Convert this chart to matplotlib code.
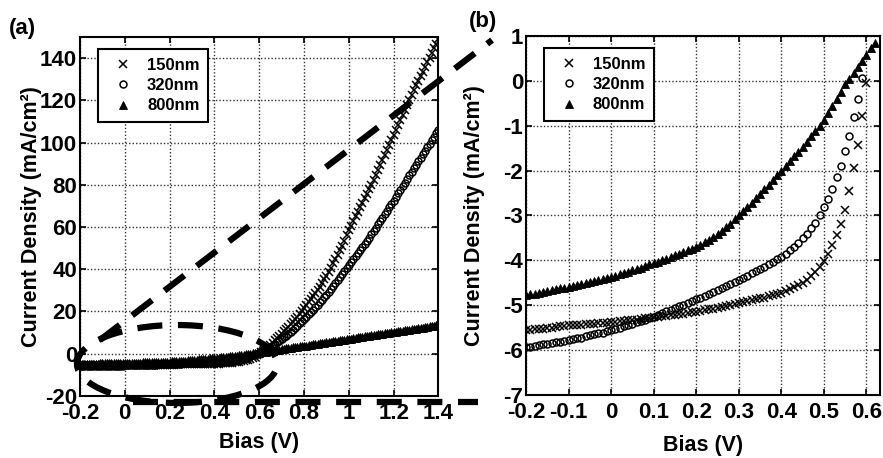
import numpy as np
import matplotlib
matplotlib.use("Agg")
import matplotlib.pyplot as plt
from matplotlib.patches import Ellipse

plt.rcParams['font.family'] = ['Liberation Sans', 'DejaVu Sans']
plt.rcParams['font.weight'] = 'bold'

# voltage sweep, 10 mV steps
bias = np.round(np.arange(-0.20, 1.405, 0.01), 2)

# current density (mA/cm^2)
j_150nm = [
    -5.56, -5.55, -5.54, -5.53, -5.52, -5.51, -5.50, -5.48, -5.47, -5.46,
    -5.45, -5.44, -5.44, -5.43, -5.42, -5.42, -5.41, -5.40, -5.40, -5.39,
    -5.38, -5.37, -5.36, -5.35, -5.34, -5.33, -5.32, -5.30, -5.29, -5.28,
    -5.27, -5.26, -5.25, -5.23, -5.22, -5.21, -5.20, -5.19, -5.17, -5.16,
    -5.15, -5.13, -5.11, -5.09, -5.08, -5.06, -5.04, -5.02, -5.00, -4.97,
    -4.95, -4.93, -4.91, -4.89, -4.87, -4.85, -4.83, -4.80, -4.78, -4.75,
    -4.72, -4.68, -4.64, -4.60, -4.55, -4.50, -4.43, -4.35, -4.25, -4.14,
    -4.02, -3.85, -3.65, -3.43, -3.18, -2.87, -2.45, -1.95, -1.42, -0.78,
    -0.05, 0.75, 1.6, 2.5, 3.4, 4.3, 5.3, 6.3, 7.3, 8.4,
    9.5, 10.6, 11.7, 12.8, 14.0, 15.2, 16.4, 17.6, 18.9, 20.2,
    21.5, 22.9, 24.3, 25.7, 27.2, 28.7, 30.2, 31.8, 33.5, 35.2,
    37.0, 38.9, 40.8, 42.8, 44.8, 46.9, 49.0, 51.2, 53.5, 56.0,
    58.5, 60.6, 62.8, 65.0, 67.1, 69.3, 71.4, 73.6, 75.7, 77.9,
    80.0, 82.4, 84.7, 87.1, 89.4, 91.8, 94.1, 96.5, 98.8, 101.2,
    103.5, 105.9, 108.2, 110.6, 112.9, 115.3, 117.6, 120.0, 122.3, 124.7,
    127.0, 129.2, 131.4, 133.6, 135.8, 138.0, 140.2, 142.4, 144.6, 146.8,
    149.0,
]
j_320nm = [
    -5.93, -5.92, -5.90, -5.89, -5.87, -5.86, -5.84, -5.83, -5.81, -5.80,
    -5.78, -5.76, -5.74, -5.72, -5.69, -5.67, -5.65, -5.63, -5.61, -5.58,
    -5.56, -5.53, -5.50, -5.47, -5.44, -5.41, -5.38, -5.35, -5.32, -5.29,
    -5.26, -5.22, -5.18, -5.14, -5.10, -5.06, -5.02, -4.99, -4.95, -4.91,
    -4.87, -4.83, -4.79, -4.74, -4.70, -4.66, -4.61, -4.57, -4.53, -4.48,
    -4.44, -4.39, -4.34, -4.29, -4.24, -4.19, -4.14, -4.09, -4.04, -3.98,
    -3.93, -3.86, -3.78, -3.70, -3.61, -3.51, -3.41, -3.29, -3.16, -3.00,
    -2.82, -2.63, -2.41, -2.15, -1.89, -1.56, -1.22, -0.81, -0.41, 0.06,
    0.55, 1.10, 1.65, 2.20, 2.80, 3.40, 4.05, 4.70, 5.40, 6.10,
    6.85, 7.70, 8.58, 9.49, 10.43, 11.39, 12.37, 13.37, 14.39, 15.43,
    16.5, 17.6, 18.7, 19.8, 20.9, 22.1, 23.2, 24.4, 25.6, 26.8,
    28.0, 29.3, 30.6, 32.0, 33.4, 34.8, 36.2, 37.6, 39.0, 40.5,
    42.0, 43.4, 44.9, 46.3, 47.8, 49.2, 50.7, 52.1, 53.6, 55.0,
    56.5, 58.1, 59.7, 61.3, 62.9, 64.5, 66.1, 67.7, 69.3, 70.9,
    72.5, 74.2, 75.9, 77.6, 79.3, 81.0, 82.7, 84.4, 86.1, 87.8,
    89.5, 91.1, 92.8, 94.4, 96.1, 97.7, 99.4, 101.0, 102.7, 104.3,
    106.0,
]
j_800nm = [
    -4.78, -4.76, -4.74, -4.72, -4.70, -4.68, -4.66, -4.64, -4.62, -4.61,
    -4.59, -4.57, -4.55, -4.53, -4.51, -4.48, -4.46, -4.44, -4.42, -4.39,
    -4.37, -4.34, -4.31, -4.28, -4.25, -4.22, -4.19, -4.16, -4.13, -4.09,
    -4.06, -4.03, -3.99, -3.96, -3.92, -3.89, -3.85, -3.81, -3.78, -3.74,
    -3.70, -3.65, -3.60, -3.54, -3.48, -3.42, -3.35, -3.26, -3.18, -3.09,
    -3.00, -2.91, -2.81, -2.72, -2.62, -2.52, -2.42, -2.32, -2.21, -2.11,
    -2.00, -1.89, -1.79, -1.68, -1.58, -1.47, -1.36, -1.24, -1.12, -1.00,
    -0.88, -0.72, -0.56, -0.40, -0.24, -0.08, 0.05, 0.18, 0.31, 0.45,
    0.58, 0.72, 0.85, 1.0, 1.2, 1.3, 1.5, 1.7, 1.8, 2.0,
    2.2, 2.3, 2.5, 2.6, 2.8, 3.0, 3.1, 3.3, 3.5, 3.6,
    3.8, 3.9, 4.1, 4.3, 4.4, 4.6, 4.8, 4.9, 5.1, 5.3,
    5.4, 5.6, 5.7, 5.9, 6.1, 6.2, 6.4, 6.6, 6.7, 6.9,
    7.0, 7.2, 7.4, 7.5, 7.7, 7.9, 8.0, 8.2, 8.3, 8.5,
    8.7, 8.8, 9.0, 9.2, 9.3, 9.5, 9.6, 9.8, 10.0, 10.1,
    10.3, 10.5, 10.6, 10.8, 11.0, 11.1, 11.3, 11.4, 11.6, 11.8,
    11.9, 12.1, 12.3, 12.4, 12.6, 12.7, 12.9, 13.1, 13.2, 13.4,
    13.6,
]

labels = ["150nm", "320nm", "800nm"]
series = [j_150nm, j_320nm, j_800nm]
# last bias point shown in the zoomed panel (b)
zoom_end = [0.60, 0.59, 0.62]

xticks_a = np.round(np.arange(-0.2, 1.41, 0.2), 1)
yticks_a = np.arange(-20, 141, 20)
xticks_b = np.round(np.arange(-0.2, 0.61, 0.1), 1)
yticks_b = np.arange(-7, 2, 1)

marker_style = {
    "150nm": dict(marker="x", ms=6, mew=1.1, color="black", mfc="black"),
    "320nm": dict(marker="o", ms=5, mew=1.1, color="black", mfc="none"),
    "800nm": dict(marker="^", ms=5.5, mew=0.6, color="black", mfc="black"),
}

fig = plt.figure(figsize=(8.83, 4.58), dpi=100)
ax1 = fig.add_axes([0.0906, 0.1354, 0.406, 0.784])
ax2 = fig.add_axes([0.5957, 0.1376, 0.401, 0.784])

fs = 16


def style_axes(ax, xt, yt, ylab_x, xlab_y):
    ax.set_xticks(xt)
    ax.set_yticks(yt)
    ax.set_xticklabels(["%g" % v for v in xt])
    ax.set_yticklabels(["%g" % v for v in yt])
    ax.grid(True, linestyle=(0, (1, 1.5)), color="#333333", linewidth=1.0)
    ax.set_axisbelow(True)
    ax.tick_params(direction="in", top=True, right=True, length=4, width=1.2,
                   labelsize=fs)
    ax.tick_params(axis="x", pad=5)
    ax.tick_params(axis="y", pad=2)
    for tl in ax.get_xticklabels() + ax.get_yticklabels():
        tl.set_fontweight("bold")
    for s in ax.spines.values():
        s.set_linewidth(1.5)
    ax.set_xlabel("Bias (V)", fontsize=15.5, fontweight="bold")
    ax.set_ylabel("Current Density (mA/cm²)", fontsize=15.5,
                  fontweight="bold")
    ax.yaxis.set_label_coords(ylab_x, 0.5)
    ax.xaxis.set_label_coords(0.5, xlab_y)


for lab, j in zip(labels, series):
    ax1.plot(bias, j, linestyle="none", label=lab, **marker_style[lab])
    keep = bias <= zoom_end[labels.index(lab)] + 1e-9
    ax2.plot(bias[keep], np.array(j)[keep], linestyle="none", label=lab,
             **marker_style[lab])

ax1.set_xlim(-0.2, 1.4)
ax1.set_ylim(-20, 150)
ax2.set_xlim(-0.2, 0.632)
ax2.set_ylim(-7, 1)
style_axes(ax1, xticks_a, yticks_a, -0.106, -0.100)
style_axes(ax2, xticks_b, yticks_b, -0.116, -0.111)

for ax in (ax1, ax2):
    leg = ax.legend(loc="upper left", bbox_to_anchor=(0.05, 0.965),
                    borderaxespad=0, fancybox=False, framealpha=1,
                    edgecolor="black", handlelength=2.0,
                    handletextpad=0.45, labelspacing=0.32, borderpad=0.5,
                    prop={"weight": "bold", "size": 12})
    leg.get_frame().set_linewidth(1.5)

# dashed zoom indicator: ellipse around the low-bias region plus two guide lines
dash = (0, (4, 2.5))
ell = Ellipse((0.233, -4.85), 0.893, 36.9, fill=False, edgecolor="black",
              linewidth=4.5, linestyle=dash, clip_on=False, zorder=10)
ax1.add_patch(ell)
ax1.plot([-0.111, 1.639], [6.5, 148.5], color="black", linewidth=4.5,
         linestyle=dash, clip_on=False, zorder=10)
ax1.plot([0.037, 1.577], [-22.8, -22.8], color="black", linewidth=4.5,
         linestyle=dash, clip_on=False, zorder=10)

fig.text(0.025, 0.937, "(a)", fontsize=16, fontweight="bold",
         ha="center", va="center")
fig.text(0.547, 0.954, "(b)", fontsize=16, fontweight="bold",
         ha="center", va="center")

fig.savefig("out.png", dpi=100)
